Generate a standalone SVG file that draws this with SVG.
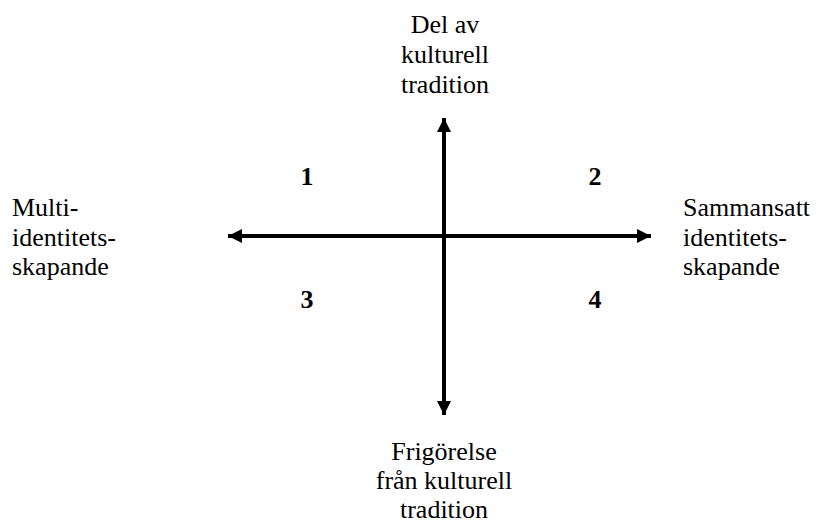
<svg xmlns="http://www.w3.org/2000/svg" width="817" height="524" viewBox="0 0 817 524">
<style>
.t{font-size:26px;fill:#000}
.c{text-anchor:middle}
.n{font-weight:bold;text-anchor:middle}
.ax{stroke:#000;stroke-width:4;fill:none}
</style>
<defs>
<marker id="ah" markerUnits="userSpaceOnUse" markerWidth="14" markerHeight="14" refX="12" refY="6" orient="auto" viewBox="0 0 12 12">
<path d="M0,0 L12,6 L0,12 Z" fill="#000"/>
</marker>
</defs>
<g id="connectors">
<line class="ax" x1="444" y1="236" x2="444" y2="118" marker-end="url(#ah)"/>
<line class="ax" x1="444" y1="236" x2="444" y2="415" marker-end="url(#ah)"/>
<line class="ax" x1="444" y1="236" x2="228" y2="236" marker-end="url(#ah)"/>
<line class="ax" x1="444" y1="236" x2="651" y2="236" marker-end="url(#ah)"/>
</g>
<g class="t" font-family="Liberation Serif, Times New Roman, DejaVu Serif, serif">
<g id="top"><text class="c" x="445" y="33">Del av</text><text class="c" x="445" y="63">kulturell</text><text class="c" x="445" y="93">tradition</text></g>
<g id="bottom"><text class="c" x="444" y="460">Frigörelse</text><text class="c" x="444" y="489">från kulturell</text><text class="c" x="444" y="518">tradition</text></g>
<g id="left"><text x="12" y="216">Multi-</text><text x="12" y="246">identitets-</text><text x="12" y="275">skapande</text></g>
<g id="right"><text x="683" y="216">Sammansatt</text><text x="683" y="246">identitets-</text><text x="683" y="275">skapande</text></g>
<g id="q1"><text class="n" x="307" y="185">1</text></g>
<g id="q2"><text class="n" x="595" y="185">2</text></g>
<g id="q3"><text class="n" x="307" y="308">3</text></g>
<g id="q4"><text class="n" x="595" y="308">4</text></g>
</g>
</svg>
